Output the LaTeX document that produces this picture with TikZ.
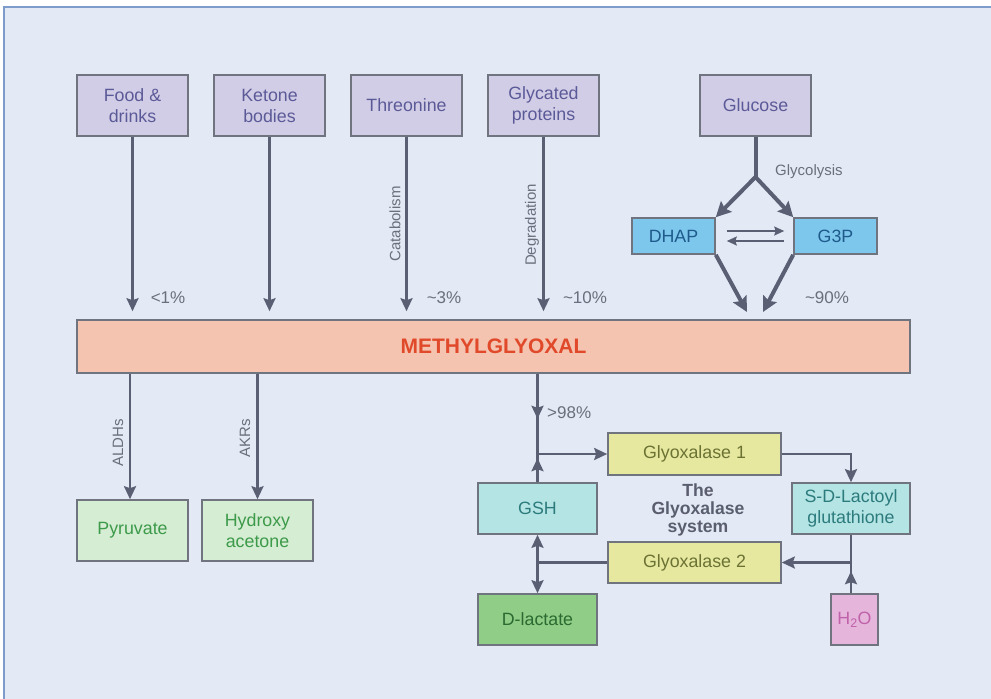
\documentclass[tikz,border=0pt]{standalone}
\usepackage{fontspec}
\setmainfont{Liberation Sans}
\usetikzlibrary{arrows.meta}

\definecolor{bg}{HTML}{E3E9F5}
\definecolor{framecol}{HTML}{7D9CCB}
\definecolor{edge}{HTML}{70747F}
\definecolor{wire}{HTML}{5B5F73}
\definecolor{note}{HTML}{6B6F7D}
\definecolor{srcfill}{HTML}{D2CDE6}
\definecolor{srctext}{HTML}{5B5A98}
\definecolor{triofill}{HTML}{7DC6EC}
\definecolor{triotext}{HTML}{1E5B8C}
\definecolor{mgfill}{HTML}{F5C4B1}
\definecolor{mgtext}{HTML}{E0492A}
\definecolor{prodfill}{HTML}{D5EDD2}
\definecolor{prodtext}{HTML}{3C9A4A}
\definecolor{enzfill}{HTML}{E6E89F}
\definecolor{enztext}{HTML}{6B7233}
\definecolor{thiofill}{HTML}{B5E4E4}
\definecolor{thiotext}{HTML}{2C7B7D}
\definecolor{lacfill}{HTML}{90CD86}
\definecolor{lactext}{HTML}{2B6A31}
\definecolor{h2ofill}{HTML}{E5B5DC}
\definecolor{h2otext}{HTML}{BF62A9}
\definecolor{systext}{HTML}{5A5E6E}

\tikzset{
  box/.style={draw=edge, line width=1.6pt, align=center, inner sep=0pt,
    font=\fontsize{17.8}{21}\selectfont},
  srcbox/.style={box, fill=srcfill, text=srctext, minimum width=111pt, minimum height=61pt},
  triobox/.style={box, fill=triofill, text=triotext, minimum width=83pt, minimum height=36pt},
  prodbox/.style={box, fill=prodfill, text=prodtext, minimum width=111pt, minimum height=61pt},
  enzbox/.style={box, fill=enzfill, text=enztext, minimum width=173pt, minimum height=42pt},
  thiobox/.style={box, fill=thiofill, text=thiotext, minimum width=119pt, minimum height=51pt},
  wirepath/.style={draw=wire, line width=2.4pt},
  arr/.style={wirepath, -{Stealth[length=13pt,width=12pt,inset=2pt]}},
  fatpath/.style={draw=wire, line width=4pt},
  fatarr/.style={fatpath, -{Stealth[length=15pt,width=15pt,inset=2.5pt]}},
  smallarr/.style={draw=wire, line width=1.8pt, -{Stealth[length=10pt,width=9pt,inset=1.5pt]}},
  pct/.style={text=note, font=\fontsize{17}{20}\selectfont, inner sep=0pt},
  via/.style={text=note, font=\fontsize{15}{18}\selectfont, inner sep=0pt},
}

\begin{document}
\begin{tikzpicture}[x=1pt,y=-1pt]
\useasboundingbox (0,0) rectangle (991,699);
% page and panel
\fill[white] (0,0) rectangle (991,699);
\fill[bg] (4,7) rectangle (991,699);
\draw[framecol, line width=2.4pt] (4,699) -- (4,7) -- (991,7);

% sources
\node[srcbox] (food)    at (132.5,105.5) {Food \&\\drinks};
\node[srcbox] (ketone)  at (269.5,105.5) {Ketone\\bodies};
\node[srcbox] (thr)     at (406.5,105.5) {Threonine};
\node[srcbox] (glyc)    at (543.5,105.5) {Glycated\\proteins};
\node[srcbox] (glucose) at (755.5,105.5) {Glucose};

% triose phosphates
\node[triobox] (dhap) at (673.5,236) {DHAP};
\node[triobox] (g3p)  at (835.5,236) {G3P};

% central metabolite
\node[box, fill=mgfill, text=mgtext, minimum width=833pt, minimum height=53pt,
      font=\fontsize{21}{24}\selectfont\bfseries] (mg) at (493.5,346.5) {METHYLGLYOXAL};

% detox products
\node[prodbox] (pyr) at (132.5,530.5) {Pyruvate};
\node[prodbox] (hya) at (257.5,530.5) {Hydroxy\\acetone};

% glyoxalase system
\node[enzbox] (gly1) at (694.5,454) {Glyoxalase 1};
\node[enzbox, minimum height=41pt] (gly2) at (694.5,562.5) {Glyoxalase 2};
\node[thiobox] (gsh) at (537.5,508.5) {GSH};
\node[thiobox, minimum width=118pt] (sdl) at (851,508.5) {S-D-Lactoyl\\glutathione};
\node[box, fill=lacfill, text=lactext, minimum width=119pt, minimum height=51pt] (dlac) at (537.5,619.5) {D-lactate};
\node[box, fill=h2ofill, text=h2otext, minimum width=47pt, minimum height=51pt] (water) at (854.5,619.5) {H\textsubscript{2}O};
\node[text=systext, align=center, inner sep=0pt,
      font=\fontsize{17.6}{17.6}\selectfont\bfseries] (sys) at (698,510) {The\\Glyoxalase\\system};

% helper points
\coordinate (br)  at (755.5,177);
\coordinate (in1) at (747,312);
\coordinate (in2) at (763,312);
\coordinate (j1)  at (537.5,454);
\coordinate (j3)  at (537.5,562.5);

% inputs into methylglyoxal
\foreach \s in {food,ketone,thr,glyc}
  \draw[arr, shorten >=8pt] (\s.south) -- (\s.south |- mg.north);

\draw[fatpath] (glucose.south) -- (br);
\draw[fatarr] (br) -- (dhap.north east);
\draw[fatarr] (br) -- (g3p.north west);
\draw[fatarr] (dhap.south east) -- (in1);
\draw[fatarr] (g3p.south west) -- (in2);
\draw[smallarr] ([shift={(11,-5)}]dhap.east) -- ([shift={(-9,-5)}]g3p.west);
\draw[smallarr] ([shift={(-9,5)}]g3p.west) -- ([shift={(11,5)}]dhap.east);

% outputs from methylglyoxal
\draw[arr] (mg.south -| 130,0) -- (pyr.north -| 130,0);
\draw[arr] (mg.south -| hya) -- (hya.north);

% glyoxalase cycle
\draw[wirepath] (mg.south -| j1) -- (j1);
\draw[arr] (mg.south -| j1) -- ++(0,45);
\draw[wirepath] (gsh.north) -- (j1);
\draw[arr] (gsh.north) -- ++(0,-24);
\draw[arr] (j1) -- (gly1.west);
\draw[arr] (gly1.east) -| (sdl.north);
\draw[arr] (sdl.south) |- (gly2.east);
\draw[wirepath] (water.north -| sdl) -- (gly2.east -| sdl);
\draw[arr] (water.north -| sdl) -- ++(0,-22);
\draw[wirepath] (gly2.west) -- (j3);
\draw[arr] (j3) -- (gsh.south);
\draw[arr] (j3) -- (dlac.north);

% annotations
\node[pct] (p1)  at (168,298) {<1\%};
\node[pct] (p3)  at (444,298) {\textasciitilde 3\%};
\node[pct] (p10) at (585,298) {\textasciitilde 10\%};
\node[pct] (p90) at (827,298) {\textasciitilde 90\%};
\node[pct, anchor=west] (p98) at (547,413) {>98\%};
\node[via, anchor=west] (glyco) at (775,172) {Glycolysis};
\node[via, rotate=90] (cat) at (395,224) {Catabolism};
\node[via, rotate=90] (deg) at (532,225) {Degradation};
\node[via, rotate=90] (aldh) at (118,443) {ALDHs};
\node[via, rotate=90] (akr) at (245,438) {AKRs};
\end{tikzpicture}
\end{document}
